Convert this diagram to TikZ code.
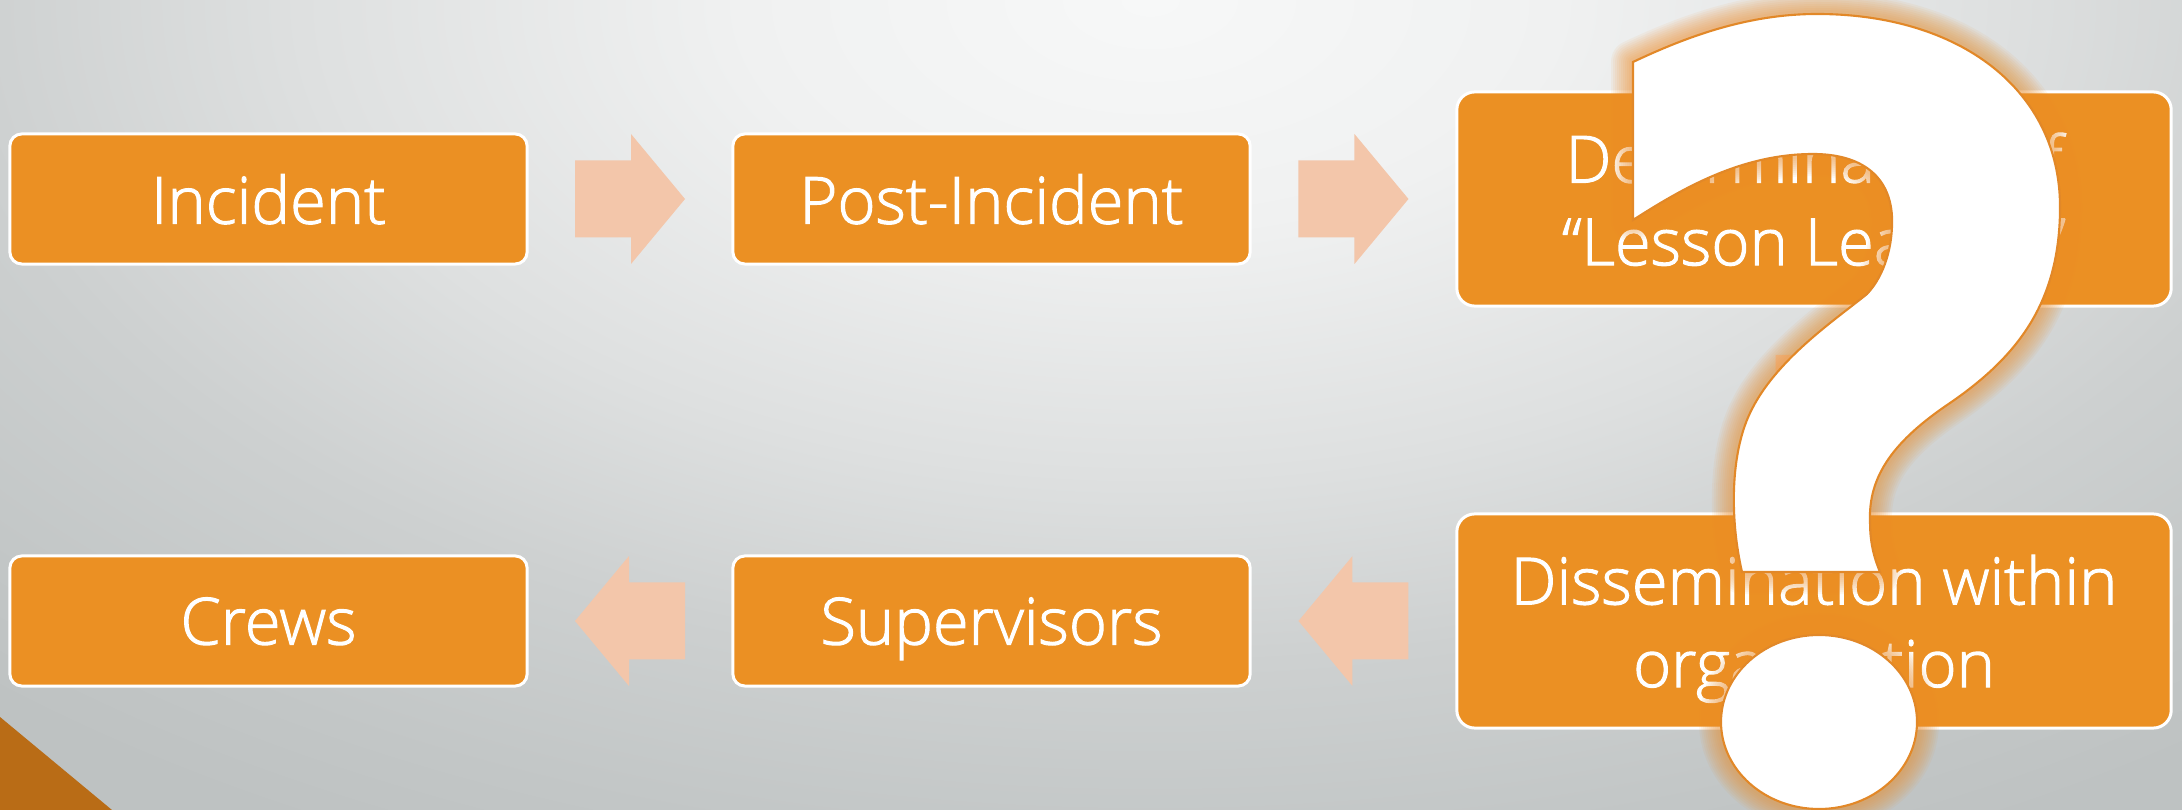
\documentclass[tikz,border=0pt]{standalone}
\usepackage{fontspec}
\setmainfont{Open Sans Light}[FakeBold=1.6]
\usetikzlibrary{calc}

\definecolor{stageorange}{RGB}{235,144,35}
\definecolor{arrowpeach}{RGB}{243,198,170}
\definecolor{cornerbrown}{RGB}{185,108,22}
\definecolor{qline}{RGB}{226,136,40}
\definecolor{qglow}{RGB}{236,142,42}
\definecolor{bgA}{RGB}{247,248,248}
\definecolor{bgB}{RGB}{240,241,241}
\definecolor{bgC}{RGB}{222,224,224}
\definecolor{bgD}{RGB}{205,208,208}
\definecolor{bgE}{RGB}{194,198,198}
\definecolor{bgF}{RGB}{190,194,194}

% radial backdrop, the path's edge sits at 25bp
\pgfdeclareradialshading{slideglow}{\pgfpoint{0bp}{0bp}}{%
  color(0bp)=(bgA); color(6bp)=(bgB); color(12.5bp)=(bgC);
  color(17.5bp)=(bgD); color(22.5bp)=(bgE); color(25bp)=(bgF);
  color(50bp)=(bgF)}

% outline of the big question mark (pixel units, y down)
\newcommand{\qmarkshape}{%
  (1633,220) -- (1633,62)
  .. controls (1690,35) and (1750,14) .. (1817,14)
  .. controls (1960,14) and (2060,90) .. (2060,207)
  .. controls (2060,300) and (2020,355) .. (1950,403)
  .. controls (1895,440) and (1868,475) .. (1870,522)
  .. controls (1870,545) and (1875,560) .. (1880,572)
  -- (1742,572)
  .. controls (1730,520) and (1730,455) .. (1750,413)
  .. controls (1775,360) and (1835,320) .. (1867,294)
  .. controls (1885,275) and (1893,245) .. (1892,217)
  .. controls (1890,175) and (1860,154) .. (1813,154)
  .. controls (1740,154) and (1680,190) .. cycle
  (1819,722) ellipse [x radius=98, y radius=87]}

\tikzset{
  stagebox/.style={rectangle, rounded corners=3.4pt, fill=stageorange,
    draw=white, line width=0.85pt, text=white, align=center,
    font=\fontsize{18.5}{23.5}\selectfont, text depth=0pt,
    minimum width=5.17cm, minimum height=1.30cm, inner sep=0pt},
  bigbox/.style={stagebox, rounded corners=5.1pt,
    minimum width=7.14cm, minimum height=2.14cm},
  blockarrow/.pic={
    \fill[arrowpeach] (-55,-38.5) -- (1,-38.5) -- (1,-65) -- (55,0)
      -- (1,65) -- (1,38.5) -- (-55,38.5) -- cycle;
  }
}

\begin{document}
\begin{tikzpicture}[x=0.01cm, y=-0.01cm]
    \useasboundingbox (0,0) rectangle (2182,810);
    \clip (0,0) rectangle (2182,810);

    % Slide background
    \shade[shading=slideglow] (-550,-950) rectangle (2850,950);
    \fill[cornerbrown] (0,717) -- (112,810) -- (0,810) -- cycle;

    % Stages
    \node[stagebox] (incident) at (268.5,199) {Incident};
    \node[stagebox] (post) at (991.5,199) {Post-Incident};
    \node[bigbox] (determ) at (1814,199) {Determination of\\“Lesson Learned”};
    \node[bigbox] (dissem) at (1814,621) {Dissemination within\\organization};
    \node[stagebox] (superv) at (991.5,621) {Supervisors};
    \node[stagebox] (crews) at (268.5,621) {Crews};

    % Flow arrows
    \pic at ($(incident.east)!0.5!(post.west)$) {blockarrow};
    \pic at ($(post.east)!0.5!(determ.west)$) {blockarrow};
    \pic[rotate=-90] at ($(determ.south)!0.5!(dissem.north)$) {blockarrow};
    \pic[rotate=180] at ($(dissem.west)!0.5!(superv.east)$) {blockarrow};
    \pic[rotate=180] at ($(superv.west)!0.5!(crews.east)$) {blockarrow};

    % Question mark with soft glow
    \foreach \w in {0.44,0.40,...,0.04}
        \draw[qglow, line width=\w cm, draw opacity=0.07, line join=round] \qmarkshape;
    \filldraw[fill=white, draw=qline, line width=0.6pt] \qmarkshape;
\end{tikzpicture}
\end{document}
